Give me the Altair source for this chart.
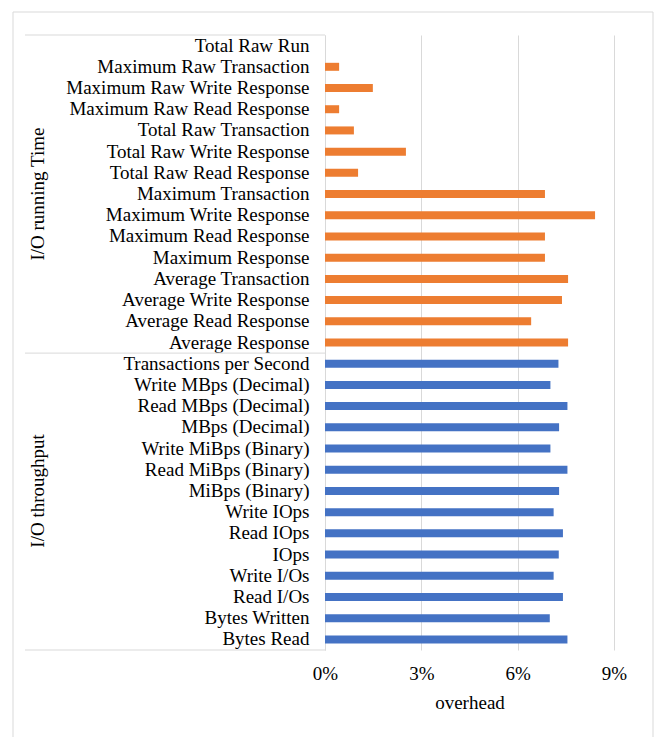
import altair as alt
import pandas as pd

running_labels = [
    "Total Raw Run", "Maximum Raw Transaction", "Maximum Raw Write Response",
    "Maximum Raw Read Response", "Total Raw Transaction", "Total Raw Write Response",
    "Total Raw Read Response", "Maximum Transaction", "Maximum Write Response",
    "Maximum Read Response", "Maximum Response", "Average Transaction",
    "Average Write Response", "Average Read Response", "Average Response",
]
running_values = [0.0, 0.44, 1.49, 0.44, 0.90, 2.52, 1.03, 6.85, 8.41,
                  6.85, 6.85, 7.57, 7.38, 6.42, 7.57]

throughput_labels = [
    "Transactions per Second", "Write MBps (Decimal)", "Read MBps (Decimal)",
    "MBps (Decimal)", "Write MiBps (Binary)", "Read MiBps (Binary)",
    "MiBps (Binary)", "Write IOps", "Read IOps", "IOps", "Write I/Os",
    "Read I/Os", "Bytes Written", "Bytes Read",
]
throughput_values = [7.27, 7.02, 7.55, 7.29, 7.02, 7.55, 7.29,
                     7.12, 7.41, 7.28, 7.12, 7.41, 7.00, 7.55]

group_names = ["I/O running Time", "I/O throughput"]
group_colors = ["#ED7D31", "#4472C4"]
x_ticks = [0, 3, 6, 9]

order = running_labels + throughput_labels
df = pd.DataFrame({
    "metric": order,
    "overhead": running_values + throughput_values,
    "group": [group_names[0]] * len(running_labels) + [group_names[1]] * len(throughput_labels),
})

FONT = "Liberation Serif"
FS = 19
yscale = alt.Scale(domain=order, paddingInner=0, paddingOuter=0)
yaxis = alt.Axis(title=None, ticks=False, labelPadding=16,
                 domain=True, domainColor="#d9d9d9",
                 labelLimit=400, grid=False)


def ych(bp=None):
    if bp is None:
        return alt.Y("metric:N", scale=yscale, sort=order, axis=yaxis)
    return alt.Y("metric:N", scale=yscale, sort=order, axis=yaxis, bandPosition=bp)


bars = alt.Chart(df).mark_bar(size=8).encode(
    x=alt.X("overhead:Q",
            scale=alt.Scale(domain=[0, 9], nice=False),
            axis=alt.Axis(values=x_ticks, labelExpr="datum.value + '%'",
                          title="overhead", grid=True, gridColor="#d9d9d9",
                          domain=False, ticks=False, labelPadding=14,
                          labelFlush=False, titlePadding=10)),
    y=ych(),
    color=alt.Color("group:N", scale=alt.Scale(domain=group_names, range=group_colors),
                    legend=None),
)

sep_top = alt.Chart(pd.DataFrame({"metric": [running_labels[0], throughput_labels[0]]})).mark_rule(
    color="#d9d9d9", strokeWidth=1).encode(
    y=ych(0), x=alt.value(-300), x2=alt.value(0),
)
sep_bottom = alt.Chart(pd.DataFrame({"metric": [throughput_labels[-1]]})).mark_rule(
    color="#d9d9d9", strokeWidth=1).encode(
    y=ych(1), x=alt.value(-300), x2=alt.value(0),
)

g1 = alt.Chart(pd.DataFrame({"metric": [running_labels[7]], "name": [group_names[0]]})).mark_text(
    angle=270, font=FONT, fontSize=FS, color="black", align="center", baseline="middle").encode(
    y=ych(0.5), x=alt.value(-287), text="name:N",
)
g2 = alt.Chart(pd.DataFrame({"metric": [throughput_labels[6]], "name": [group_names[1]]})).mark_text(
    angle=270, font=FONT, fontSize=FS, color="black", align="center", baseline="middle").encode(
    y=ych(0.5), x=alt.value(-287), text="name:N",
)

border = alt.Chart(pd.DataFrame({"a": [0]})).mark_rect(
    fillOpacity=0, stroke="#d9d9d9", strokeWidth=1).encode(
    x=alt.value(-312), x2=alt.value(328), y=alt.value(-23), y2=alt.value(760),
)

chart = alt.layer(border, bars, sep_top, sep_bottom, g1, g2).properties(
    width=289, height=615,
    autosize=alt.AutoSizeParams(type="none"),
    padding={"left": 325, "top": 35, "right": 43, "bottom": 87},
    background="white",
).configure_view(stroke=None).configure_axis(
    labelFont=FONT, labelFontSize=FS, labelColor="black",
    titleFont=FONT, titleFontSize=FS, titleColor="black", titleFontWeight="normal",
)

chart.save("out.html", embed_options={"renderer": "svg", "actions": False})
